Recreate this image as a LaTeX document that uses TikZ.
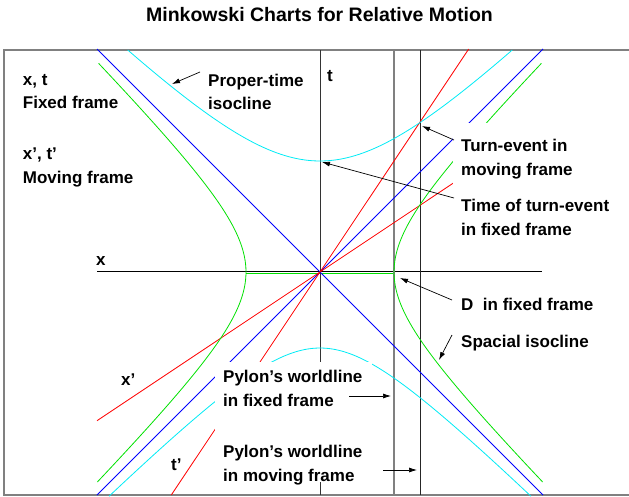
\documentclass[tikz,border=0pt]{standalone}
\usepackage{fontspec}
\setmainfont{Liberation Sans}
\usetikzlibrary{arrows.meta}

\definecolor{conecol}{RGB}{0,0,255}
\definecolor{framecol}{RGB}{255,0,0}
\definecolor{isogreen}{RGB}{0,225,0}
\definecolor{isocyan}{RGB}{0,235,245}

\tikzset{
    lbl/.style={anchor=base west, inner sep=0pt,
        font=\fontsize{17}{20}\selectfont\bfseries},
    pointer/.style={-{Latex[length=8pt,width=5pt]}, line width=0.7pt},
    cover/.style={fill=white, draw=none},
    curve/.style={line width=0.8pt},
}

\begin{document}
\begin{tikzpicture}[x=1pt, y=-1pt]
    \useasboundingbox (0,0) rectangle (629,496);

    \node [anchor=base, inner sep=0pt, font=\fontsize{19.5}{22}\selectfont\bfseries]
        (title) at (319.5,21) {Minkowski Charts for Relative Motion}
        ;
    \draw [gray, line width=1.4pt]
        (4,50) rectangle (634,495)
        ;

    % axes and worldlines
    \draw [isogreen, line width=1pt]
        (246,273.4) -- (394,273.4)
        ;
    \draw [line width=0.7pt]
        (97,271.8) -- (542,271.8)
        ;
    \draw [black!80, line width=0.8pt]
        (320,50) -- (320,495)
        ;
    \draw [gray, line width=2.2pt]
        (394,50) -- (394,495)
        ;
    \draw [black!85, line width=0.9pt]
        (420,50) -- (420,495)
        ;

    % light cone
    \draw [conecol, curve]
        (97,49) -- (543,495)
        (97,495) -- (543,49)
        ;
    % moving frame axes
    \draw [framecol, curve]
        (97,420.7) -- (453,183.3)
        (171.3,495) -- (468.7,49)
        ;

    % proper-time isoclines
    \draw [isocyan, curve]
        plot [domain=-1.317:1.317, samples=80]
            ({320+111*sinh(\x)}, {272-111*cosh(\x)})
        ;
    \draw [isocyan, curve]
        plot [domain=-1.745:1.745, samples=80]
            ({320+76*sinh(\x)}, {272+76*cosh(\x)})
        ;
    % spacial isoclines
    \draw [isogreen, curve]
        plot [domain=-1.766:1.761, samples=80]
            ({320-74*cosh(\x)}, {272-74*sinh(\x)})
        ;
    \draw [isogreen, curve]
        plot [domain=-1.766:1.761, samples=80]
            ({320+74*cosh(\x)}, {272-74*sinh(\x)})
        ;

    % text boxes
    \fill [cover] (215,362) rectangle (372,482);
    \fill [cover] (453,123) rectangle (629,248);

    % labels
    \node [lbl] (xtA) at (22.7,85) {x, t};
    \node [lbl] (xtB) at (22.7,108) {Fixed frame};
    \node [lbl] (xptA) at (22.7,159) {x’, t’};
    \node [lbl] (xptB) at (22.7,183) {Moving frame};
    \node [lbl] (propA) at (208,86) {Proper-time};
    \node [lbl] (propB) at (208,109) {isocline};
    \node [lbl] (taxis) at (327,81) {t};
    \node [lbl] (xaxis) at (96,265) {x};
    \node [lbl] (xpaxis) at (121,385) {x’};
    \node [lbl] (tpaxis) at (171,470) {t’};
    \node [lbl] (turnA) at (461,151) {Turn-event in};
    \node [lbl] (turnB) at (461,175) {moving frame};
    \node [lbl] (timeA) at (461,211) {Time of turn-event};
    \node [lbl] (timeB) at (461,235) {in fixed frame};
    \node [lbl] (dist) at (461,310) {D\ \ in fixed frame};
    \node [lbl] (spac) at (461,347) {Spacial isocline};
    \node [lbl] (pyfixA) at (223,382) {Pylon’s worldline};
    \node [lbl] (pyfixB) at (223,406) {in fixed frame};
    \node [lbl] (pymovA) at (223,457) {Pylon’s worldline};
    \node [lbl] (pymovB) at (223,481) {in moving frame};

    % pointers
    \coordinate (propT) at (200,72);
    \coordinate (propH) at (172,84);
    \coordinate (turnT) at (454,140);
    \coordinate (turnH) at (422,126);
    \coordinate (timeT) at (454,198);
    \coordinate (timeH) at (322,162);
    \coordinate (distT) at (452,300);
    \coordinate (distH) at (400,278);
    \coordinate (spacT) at (452,335);
    \coordinate (spacH) at (439,360);
    \coordinate (pyfixT) at (349,396);
    \coordinate (pyfixH) at (391,396);
    \coordinate (pymovT) at (383,470);
    \coordinate (pymovH) at (417,470);
    \draw [pointer] (propT) -- (propH);
    \draw [pointer] (turnT) -- (turnH);
    \draw [pointer] (timeT) -- (timeH);
    \draw [pointer] (distT) -- (distH);
    \draw [pointer] (spacT) -- (spacH);
    \draw [pointer] (pyfixT) -- (pyfixH);
    \draw [pointer] (pymovT) -- (pymovH);
\end{tikzpicture}
\end{document}
